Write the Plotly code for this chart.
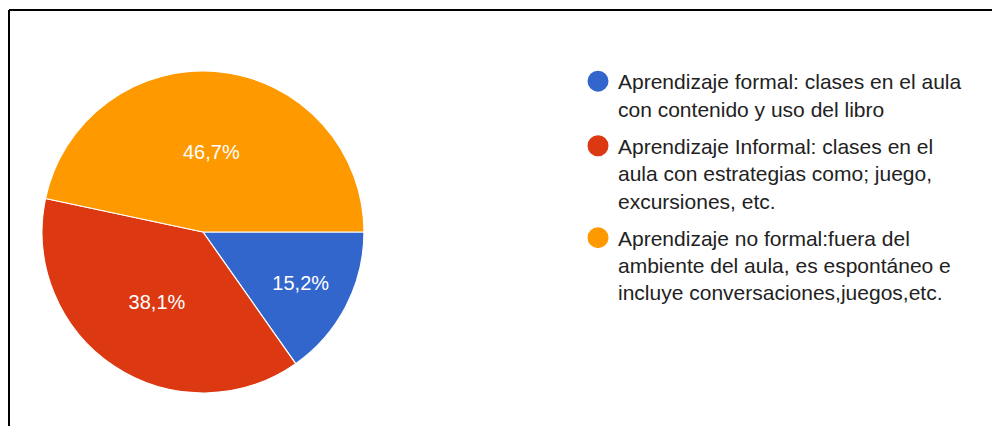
import plotly.graph_objects as go

labels = [
    "Aprendizaje formal: clases en el aula<br>con contenido y uso del libro",
    "Aprendizaje Informal: clases en el<br>aula con estrategias como; juego,<br>excursiones, etc.",
    "Aprendizaje no formal:fuera del<br>ambiente del aula, es espontáneo e<br>incluye conversaciones,juegos,etc.",
]
values = [16, 40, 49]
colors = ["#3366CC", "#DC3912", "#FF9900"]

# page body has an 8px margin; figure sized to fit the 1000x426 window
W, H = 992, 418
cx, cy, r = 195, 224, 161

fig = go.Figure()
fig.add_trace(go.Pie(
    labels=labels, values=values, sort=False, direction="clockwise", rotation=90,
    marker=dict(colors=colors, line=dict(color="white", width=1.2)),
    texttemplate="%{percent:.1%}", textposition="inside",
    insidetextorientation="horizontal",
    textfont=dict(family="Liberation Sans, Arial, sans-serif", size=20, color="white"),
    showlegend=False, hoverinfo="label+percent",
    domain=dict(x=[(cx - r) / W, (cx + r) / W], y=[1 - (cy + r) / H, 1 - (cy - r) / H]),
))
for lab, col in zip(labels, colors):
    fig.add_trace(go.Scatter(
        x=[None], y=[None], mode="markers", name=lab, legendgroup=lab,
        marker=dict(symbol="circle", size=16, color=col, line=dict(color=col, width=5)),
    ))

fig.update_layout(
    width=W, height=H, margin=dict(l=0, r=0, t=0, b=0),
    paper_bgcolor="white", plot_bgcolor="white",
    separators=",.",
    xaxis=dict(visible=False), yaxis=dict(visible=False),
    legend=dict(
        x=570 / W, y=1 - 53 / H, xanchor="left", yanchor="top", valign="top",
        font=dict(family="Liberation Sans, Arial, sans-serif", size=21, color="#222222"),
        tracegroupgap=7, itemsizing="trace", bgcolor="rgba(0,0,0,0)",
    ),
    shapes=[
        dict(type="line", xref="paper", yref="paper", x0=1 / W, x1=1, y0=1 - 2 / H, y1=1 - 2 / H,
             line=dict(color="black", width=2)),
        dict(type="line", xref="paper", yref="paper", x0=1 / W, x1=1 / W, y0=0, y1=1 - 2 / H,
             line=dict(color="black", width=2)),
    ],
)
fig.write_html("out.html")
